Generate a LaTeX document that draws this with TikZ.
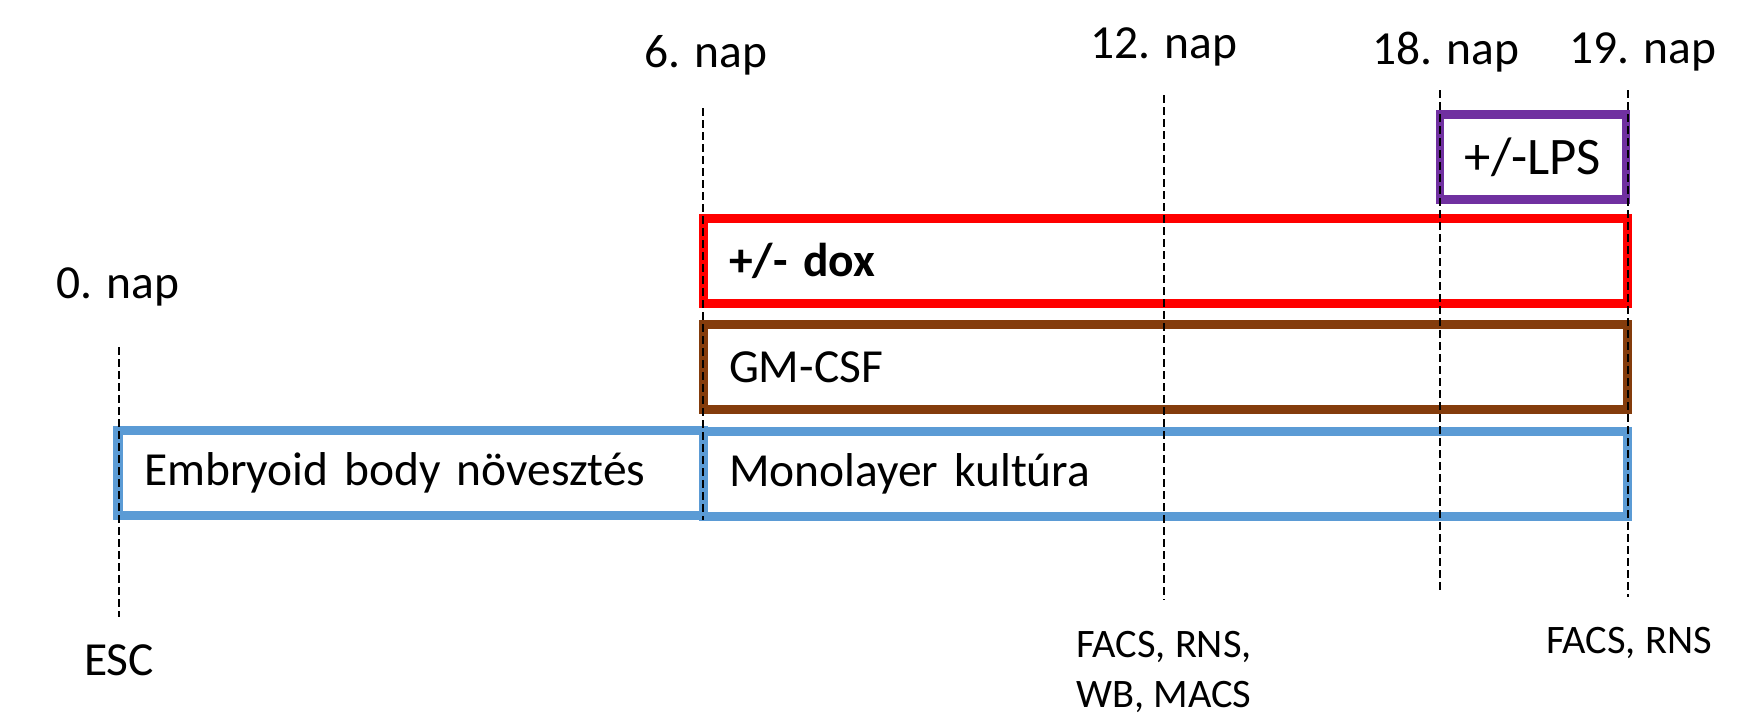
\documentclass[tikz,border=0pt]{standalone}
\usepackage{fontspec}
\setmainfont{Carlito}

\definecolor{ebblue}{HTML}{5B9BD5}
\definecolor{gmbrown}{HTML}{843C0C}
\definecolor{lpspurple}{HTML}{7030A0}

\def\boxline{0.09cm}

\begin{document}
\begin{tikzpicture}[x=0.01cm, y=-0.01cm]
    \tikzstyle{phase}=[draw, line width=\boxline, outer sep=0pt, minimum height=0.85cm, inner xsep=0.26cm, anchor=west, align=left, font=\fontsize{13.5}{16}\selectfont]
    \tikzstyle{day}=[font=\fontsize{13.5}{16}\selectfont, inner sep=0pt]
    \tikzstyle{assay}=[font=\fontsize{11.5}{14.2}\selectfont, align=center, inner sep=0pt]
    \tikzstyle{timeline}=[draw=black, line width=0.025cm, dash pattern=on 0.08cm off 0.04cm]

    \useasboundingbox (0,0) rectangle (1763,718);

    % Draw the phase boxes
    \node[phase, draw=lpspurple, line width=0.085cm, minimum width=1.86cm, inner xsep=0.1cm, align=center, anchor=center, font=\fontsize{15}{18}\selectfont] (lps) at (1533,157) {+/-LPS};
    \node[phase, draw=red, text width=8.72cm, font=\fontsize{13.5}{16}\selectfont\bfseries] (dox) at (703,261) {+/- dox};
    \node[phase, draw=gmbrown, text width=8.72cm] (gm) at (703,367) {GM-CSF};
    \node[phase, draw=ebblue, text width=5.33cm] (eb) at (118,473) {Embryoid body növesztés};
    \node[phase, draw=ebblue, text width=8.72cm] (mono) at (703,474) {Monolayer kultúra};

    % Day labels above the time lines
    \foreach \name / \x / \y in {0/118/287, 6/706/55, 12/1164/47, 18/1446/52, 19/1643/52}
        \node[day] (L-\name) at (\x,\y) {\name. nap};

    % End points of the time lines
    \foreach \name / \x / \ya / \yb in {0/119/347/617, 6/703/108/520, 12/1164/95/600, 18/1440/90/592, 19/1628/90/597} {
        \coordinate (T-\name) at (\x,\ya);
        \coordinate (B-\name) at (\x,\yb);
    }

    % Draw the time lines over the boxes
    \foreach \name in {0,6,12,18,19}
        \draw[timeline] (T-\name) -- (B-\name);

    % Samples below the time lines
    \node[day] (esc) at (119,660) {ESC};
    \node[assay] (A-12) at (1164,672) {FACS, RNS,\\WB, MACS};
    \node[assay] (A-19) at (1629,643) {FACS, RNS};
\end{tikzpicture}
\end{document}
